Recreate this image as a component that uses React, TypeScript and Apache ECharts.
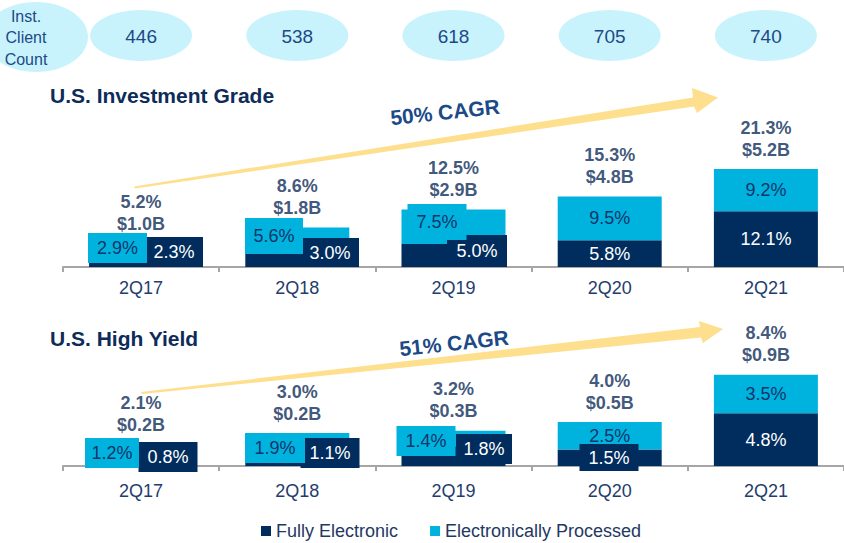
import React, { useEffect, useRef } from 'react';
import * as echarts from 'echarts';

// ---------- data ----------
const categories = ['2Q17', '2Q18', '2Q19', '2Q20', '2Q21'];
const clientCount = [446, 538, 618, 705, 740];
const clientCountLabel = 'Inst.\nClient\nCount';

const igTitle = 'U.S. Investment Grade';
const igFully = [2.3, 3.0, 5.0, 5.8, 12.1];
const igProcessed = [2.9, 5.6, 7.5, 9.5, 9.2];
const igTotalPct = ['5.2%', '8.6%', '12.5%', '15.3%', '21.3%'];
const igTotalUsd = ['$1.0B', '$1.8B', '$2.9B', '$4.8B', '$5.2B'];
const igCagr = '50% CAGR';

const hyTitle = 'U.S. High Yield';
const hyFully = [0.8, 1.1, 1.8, 1.5, 4.8];
const hyProcessed = [1.2, 1.9, 1.4, 2.5, 3.5];
const hyTotalPct = ['2.1%', '3.0%', '3.2%', '4.0%', '8.4%'];
const hyTotalUsd = ['$0.2B', '$0.2B', '$0.3B', '$0.5B', '$0.9B'];
const hyCagr = '51% CAGR';

const seriesNames = ['Fully Electronic', 'Electronically Processed'];

// ---------- layout / style ----------
const W = 844;
const H = 543;
const GRID_LEFT = 63;
const CAT_W = (W - GRID_LEFT) / categories.length;
const IG = { top: 129, height: 138, max: 30 };
const HY = { top: 356, height: 110, max: 10 };

const DARK = '#002D5E';
const LIGHT = '#00B3DE';
const LIGHT_TXT = '#12356A';
const NAVY = '#0D2C59';
const BLUE_TXT = '#1C4A87';
const AXIS = '#A6A6A6';
const ELLIPSE = '#C9F3FC';
const ARROW = '#FEDF8E';
const FONT = '"Liberation Sans", Arial, sans-serif';

// callout boxes for small segments: [centerX, centerY, width, height]
type Box = number[] | null;
const igBoxes: { light: Box; dark: Box }[] = [
  { light: [117.5, 248, 59, 30], dark: [174, 252, 58, 30] },
  { light: [274, 236, 58, 36], dark: [330, 252.5, 58, 29] },
  { light: [437, 222, 59, 36], dark: [477, 251, 60, 32] },
  { light: null, dark: null },
  { light: null, dark: null },
];
const hyBoxes: { light: Box; dark: Box }[] = [
  { light: [112, 453, 54, 30], dark: [168, 457, 59, 30] },
  { light: [275, 448, 60, 30], dark: [330, 453, 59, 30] },
  { light: [426, 441, 59, 30], dark: [484, 449, 56, 30] },
  { light: null, dark: [609, 457.5, 59, 27] },
  { light: null, dark: null },
];

function barData(
  values: number[],
  fully: number[],
  boxes: { light: Box; dark: Box }[],
  kind: 'light' | 'dark',
  grid: { top: number; height: number; max: number }
) {
  const scale = grid.height / grid.max;
  const axisY = grid.top + grid.height;
  return values.map((v, i) => {
    const b = boxes[i][kind];
    if (!b) return { value: v };
    const cx = GRID_LEFT + (i + 0.5) * CAT_W;
    const baseY = kind === 'dark' ? axisY : axisY - fully[i] * scale;
    return {
      value: v,
      label: {
        position: ['50%', '100%'],
        offset: [b[0] - cx, b[1] - baseY],
        width: b[2],
        height: b[3],
        lineHeight: b[3],
        backgroundColor: kind === 'dark' ? DARK : LIGHT,
        align: 'center',
        verticalAlign: 'middle',
      },
    };
  });
}

const pctFmt = (p: any) => Number(p.value).toFixed(1) + '%';

function barSeries(
  stack: string,
  axisIndex: number,
  fully: number[],
  processed: number[],
  boxes: { light: Box; dark: Box }[],
  grid: { top: number; height: number; max: number }
) {
  return [
    {
      type: 'bar',
      name: seriesNames[0],
      stack,
      xAxisIndex: axisIndex,
      yAxisIndex: axisIndex,
      barWidth: 104,
      itemStyle: { color: DARK },
      label: { show: true, position: 'inside', color: '#FFFFFF', fontSize: 18, fontFamily: FONT, formatter: pctFmt },
      data: barData(fully, fully, boxes, 'dark', grid),
    },
    {
      type: 'bar',
      name: seriesNames[1],
      stack,
      xAxisIndex: axisIndex,
      yAxisIndex: axisIndex,
      barWidth: 104,
      itemStyle: { color: LIGHT },
      label: { show: true, position: 'inside', color: LIGHT_TXT, fontSize: 18, fontFamily: FONT, formatter: pctFmt },
      data: barData(processed, fully, boxes, 'light', grid),
    },
  ];
}

function totalSeries(axisIndex: number, fully: number[], processed: number[], pct: string[], usd: string[], dist: number) {
  return {
    type: 'scatter',
    xAxisIndex: axisIndex,
    yAxisIndex: axisIndex,
    silent: true,
    symbol: 'rect',
    symbolSize: 1,
    itemStyle: { color: 'rgba(0,0,0,0)' },
    label: {
      show: true,
      position: 'top',
      distance: dist,
      formatter: (p: any) => pct[p.dataIndex] + '\n' + usd[p.dataIndex],
      fontWeight: 'bold',
      fontSize: 18,
      lineHeight: 22,
      color: NAVY,
      fontFamily: FONT,
    },
    data: fully.map((v, i) => Math.round((v + processed[i]) * 100) / 100),
  };
}

function xAxis(gridIndex: number, margin: number) {
  return {
    type: 'category',
    gridIndex,
    data: categories,
    boundaryGap: true,
    axisLine: { lineStyle: { color: AXIS, width: 2 } },
    axisTick: { show: true, length: 5, lineStyle: { color: AXIS, width: 2 } },
    axisLabel: { color: '#1F3D6D', fontSize: 18, margin, fontFamily: FONT },
  };
}

function text(x: number, y: number, t: string, font: string, fill: string, extra: any = {}) {
  return {
    type: 'text',
    x,
    y,
    rotation: extra.rotation || 0,
    style: {
      text: t,
      font,
      fill,
      align: extra.align || 'center',
      verticalAlign: 'middle',
      textAlign: extra.align || 'center',
      textVerticalAlign: 'middle',
      lineHeight: extra.lineHeight,
    },
  };
}

function buildGraphic() {
  const els: any[] = [];
  // client count ellipses
  els.push({ type: 'ellipse', shape: { cx: 36, cy: 37, rx: 52, ry: 35 }, style: { fill: ELLIPSE } });
  els.push(text(26, 37.5, clientCountLabel, `16px ${FONT}`, BLUE_TXT, { lineHeight: 21.5 }));
  clientCount.forEach((c, i) => {
    const cx = GRID_LEFT + (i + 0.5) * CAT_W;
    els.push({ type: 'ellipse', shape: { cx, cy: 35.5, rx: 51, ry: 25.5 }, style: { fill: ELLIPSE } });
    els.push(text(cx, 36, String(c), `19px ${FONT}`, BLUE_TXT));
  });
  // titles
  els.push(text(50, 95.5, igTitle, `bold 21px ${FONT}`, NAVY, { align: 'left' }));
  els.push(text(50, 338.5, hyTitle, `bold 21px ${FONT}`, NAVY, { align: 'left' }));
  // arrows
  els.push({
    type: 'polygon',
    shape: { points: [[134, 186.5], [693, 97.5], [692, 88], [718, 97.5], [697, 113], [694, 106.5], [135, 188.5]] },
    style: { fill: ARROW },
  });
  els.push({
    type: 'polygon',
    shape: { points: [[141, 392], [700, 327], [699, 321], [723, 329], [703, 343], [701, 337.5], [142, 394]] },
    style: { fill: ARROW },
  });
  const rot = (6 * Math.PI) / 180;
  els.push(text(445, 112, igCagr, `bold 21px ${FONT}`, BLUE_TXT, { rotation: rot }));
  els.push(text(454, 343, hyCagr, `bold 21px ${FONT}`, BLUE_TXT, { rotation: rot }));
  return els;
}

export default function App() {
  const ref = useRef<HTMLDivElement>(null);
  useEffect(() => {
    if (!ref.current) return;
    const chart = echarts.init(ref.current, undefined, { renderer: 'svg' });
    chart.setOption({
      animation: false,
      backgroundColor: '#FFFFFF',
      textStyle: { fontFamily: FONT },
      grid: [
        { left: GRID_LEFT, right: 0, top: IG.top, height: IG.height },
        { left: GRID_LEFT, right: 0, top: HY.top, height: HY.height },
      ],
      xAxis: [xAxis(0, 12), xAxis(1, 16)],
      yAxis: [
        { type: 'value', gridIndex: 0, min: 0, max: IG.max, show: false },
        { type: 'value', gridIndex: 1, min: 0, max: HY.max, show: false },
      ],
      legend: {
        data: seriesNames,
        left: 261,
        top: 522,
        padding: 0,
        icon: 'rect',
        itemWidth: 10,
        itemHeight: 10,
        itemGap: 32,
        textStyle: { fontSize: 18, color: '#1F3864', fontFamily: FONT },
      },
      graphic: buildGraphic(),
      series: [
        ...barSeries('ig', 0, igFully, igProcessed, igBoxes, IG),
        ...barSeries('hy', 1, hyFully, hyProcessed, hyBoxes, HY),
        totalSeries(0, igFully, igProcessed, igTotalPct, igTotalUsd, 8),
        totalSeries(1, hyFully, hyProcessed, hyTotalPct, hyTotalUsd, 8),
      ],
    });
    return () => chart.dispose();
  }, []);
  return <div ref={ref} style={{ position: 'fixed', left: 0, top: 0, width: W, height: H }} />;
}
